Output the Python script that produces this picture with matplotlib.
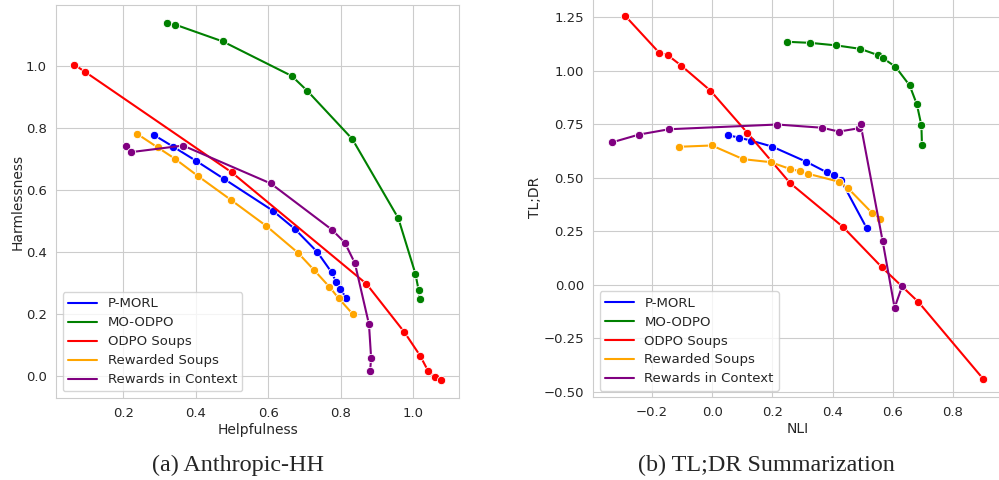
import matplotlib
matplotlib.use("Agg")
import matplotlib.pyplot as plt
import seaborn as sns

sns.set_style("whitegrid")
plt.rcParams["font.family"] = ["DejaVu Sans"]

methods = ["P-MORL", "MO-ODPO", "ODPO Soups", "Rewarded Soups", "Rewards in Context"]
colors = ["blue", "green", "red", "orange", "purple"]

# (a) Anthropic-HH: helpfulness / harmlessness
hh_pmorl_x = [0.286, 0.337, 0.402, 0.479, 0.612, 0.673, 0.735, 0.775, 0.787, 0.799, 0.814]
hh_pmorl_y = [0.776, 0.740, 0.693, 0.635, 0.534, 0.475, 0.401, 0.335, 0.305, 0.282, 0.254]
hh_moodpo_x = [0.322, 0.344, 0.475, 0.665, 0.708, 0.832, 0.959, 1.006, 1.015, 1.018]
hh_moodpo_y = [1.138, 1.132, 1.078, 0.967, 0.919, 0.764, 0.509, 0.331, 0.278, 0.248]
hh_soups_x = [0.065, 0.095, 0.499, 0.871, 0.976, 1.019, 1.041, 1.059, 1.076]
hh_soups_y = [1.003, 0.980, 0.657, 0.298, 0.142, 0.067, 0.018, -0.002, -0.012]
hh_rs_x = [0.239, 0.295, 0.342, 0.406, 0.496, 0.595, 0.682, 0.726, 0.769, 0.794, 0.833]
hh_rs_y = [0.780, 0.737, 0.701, 0.645, 0.569, 0.484, 0.398, 0.343, 0.288, 0.252, 0.201]
hh_ric_x = [0.207, 0.222, 0.365, 0.607, 0.776, 0.811, 0.839, 0.878, 0.884, 0.881]
hh_ric_y = [0.741, 0.722, 0.743, 0.621, 0.472, 0.431, 0.365, 0.168, 0.058, 0.017]

# (b) TL;DR: NLI / TL;DR reward
tldr_pmorl_x = [0.053, 0.088, 0.129, 0.199, 0.311, 0.380, 0.405, 0.427, 0.513]
tldr_pmorl_y = [0.699, 0.688, 0.674, 0.646, 0.576, 0.526, 0.513, 0.491, 0.265]
tldr_moodpo_x = [0.249, 0.326, 0.413, 0.492, 0.550, 0.567, 0.609, 0.656, 0.680, 0.695, 0.697]
tldr_moodpo_y = [1.136, 1.131, 1.119, 1.103, 1.074, 1.060, 1.019, 0.932, 0.843, 0.745, 0.651]
tldr_soups_x = [-0.288, -0.176, -0.148, -0.103, -0.006, 0.117, 0.259, 0.433, 0.564, 0.685, 0.901]
tldr_soups_y = [1.256, 1.085, 1.074, 1.025, 0.908, 0.710, 0.475, 0.272, 0.081, -0.081, -0.442]
tldr_rs_x = [-0.109, -0.001, 0.103, 0.194, 0.257, 0.291, 0.320, 0.420, 0.452, 0.530, 0.556]
tldr_rs_y = [0.645, 0.651, 0.587, 0.573, 0.542, 0.531, 0.518, 0.482, 0.450, 0.337, 0.309]
tldr_ric_x = [-0.334, -0.243, -0.143, 0.216, 0.365, 0.421, 0.489, 0.493, 0.566, 0.606, 0.631]
tldr_ric_y = [0.665, 0.702, 0.727, 0.749, 0.734, 0.716, 0.732, 0.751, 0.206, -0.108, -0.008]

hh_series = [(hh_pmorl_x, hh_pmorl_y), (hh_moodpo_x, hh_moodpo_y), (hh_soups_x, hh_soups_y),
             (hh_rs_x, hh_rs_y), (hh_ric_x, hh_ric_y)]
tldr_series = [(tldr_pmorl_x, tldr_pmorl_y), (tldr_moodpo_x, tldr_moodpo_y), (tldr_soups_x, tldr_soups_y),
               (tldr_rs_x, tldr_rs_y), (tldr_ric_x, tldr_ric_y)]

fig = plt.figure(figsize=(9.99, 4.8), dpi=100)
ax1 = fig.add_axes([0.0561, 0.1708, 0.4034, 0.8188])
ax2 = fig.add_axes([0.5936, 0.1723, 0.4094, 0.8319])


def draw(ax, series, xlabel, ylabel):
    for (x, y), label, c in zip(series, methods, colors):
        ax.plot(x, y, color=c, lw=1.5, marker="o", ms=6, mec="white", mew=0.6, label=label)
    ax.set_xlabel(xlabel, fontsize=10, labelpad=2)
    ax.set_ylabel(ylabel, fontsize=10, labelpad=1)
    ax.tick_params(labelsize=9.5, pad=3)
    for s in ax.spines.values():
        s.set_color("#cccccc")
    leg = ax.legend(loc="lower left", fontsize=9.5, frameon=True, handlelength=2.2,
                    borderpad=0.4, labelspacing=0.45)
    for h in leg.legend_handles:
        h.set_marker("")


draw(ax1, hh_series, "Helpfulness", "Harmlessness")
ax1.set_xticks([0.2, 0.4, 0.6, 0.8, 1.0])
draw(ax2, tldr_series, "NLI", "TL;DR")
ax2.set_xticks([-0.2, 0.0, 0.2, 0.4, 0.6, 0.8])
ax2.set_yticks([-0.5, -0.25, 0.0, 0.25, 0.5, 0.75, 1.0, 1.25])

fig.text(0.238, 0.031, "(a) Anthropic-HH", ha="center", va="center",
         family="Liberation Serif", fontsize=17.4)
fig.text(0.767, 0.031, "(b) TL;DR Summarization", ha="center", va="center",
         family="Liberation Serif", fontsize=17.4)

fig.savefig("out.png", dpi=100)
